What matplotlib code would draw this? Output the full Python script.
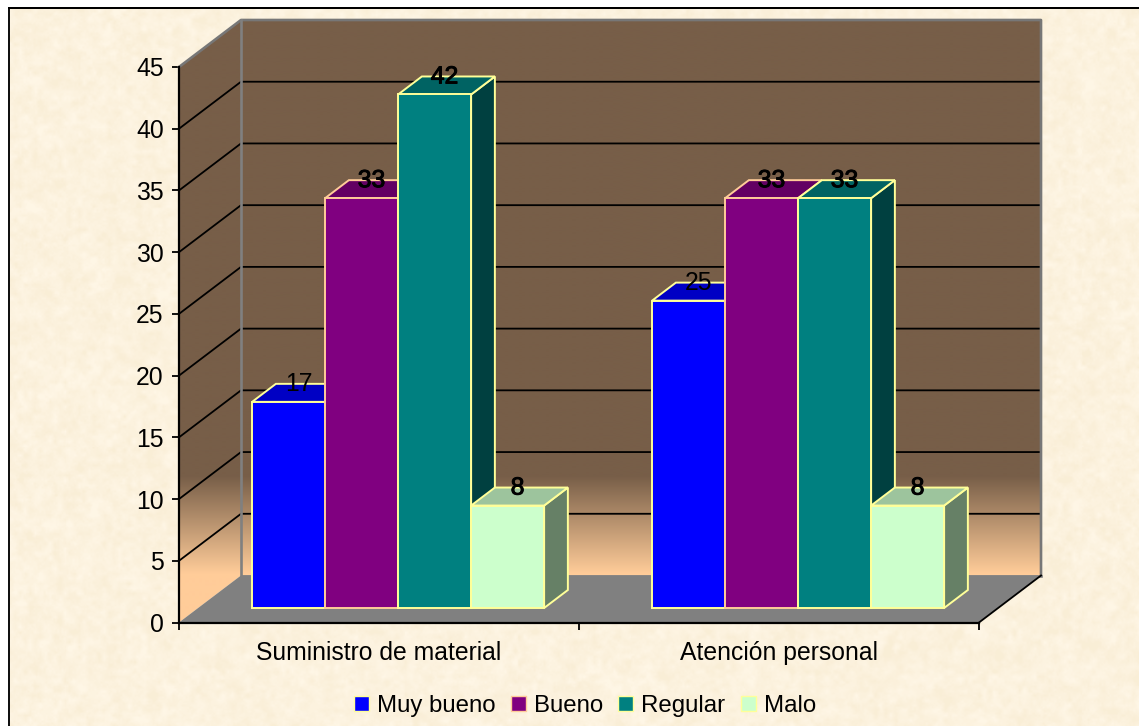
import numpy as np
from matplotlib import pyplot as plt
from matplotlib.patches import Patch, Polygon, Rectangle
from matplotlib.colors import to_rgb
import matplotlib.patheffects as pe

plt.rcParams['font.family'] = ['Liberation Sans', 'DejaVu Sans']

categorias = ['Suministro de material', 'Atención personal']
series = ['Muy bueno', 'Bueno', 'Regular', 'Malo']
muy_bueno = [16.7, 24.9]
bueno = [33.2, 33.2]
regular = [41.6, 33.2]
malo = [8.3, 8.3]
valores = [muy_bueno, bueno, regular, malo]
rotulos = [['17', '25'], ['33', '33'], ['42', '33'], ['8', '8']]
yticks = list(range(0, 50, 5))

cores = ['#0000FF', '#800080', '#008080', '#CCFFCC']
bordas = ['#FFFF99', '#FFCC99', '#FFFF99', '#FFFF99']
rotulo_forte = [False, True, True, True]

W, H = 1139, 726
fig = plt.figure(figsize=(W / 100, H / 100), dpi=100, facecolor='white')

# fundo de pergaminho
rng = np.random.default_rng(3)
tex = np.zeros((H, W))
for passo, peso in [(12, 0.6), (5, 0.8), (2, 0.3)]:
    r = rng.normal(size=(H // passo + 2, W // passo + 2))
    yy = np.linspace(0, r.shape[0] - 1.001, H)
    xx = np.linspace(0, r.shape[1] - 1.001, W)
    y0 = yy.astype(int)
    x0 = xx.astype(int)
    fy = (yy - y0)[:, None]
    fx = (xx - x0)[None, :]
    tex += peso * (r[y0][:, x0] * (1 - fy) * (1 - fx) + r[y0 + 1][:, x0] * fy * (1 - fx)
                   + r[y0][:, x0 + 1] * (1 - fy) * fx + r[y0 + 1][:, x0 + 1] * fy * fx)
tex = np.clip(tex / tex.std(), -2.5, 2.5)
fundo = np.dstack([np.full((H, W), 252.0) + tex * 1.0,
                   np.full((H, W), 242.0) + tex * 1.6,
                   np.full((H, W), 222.0) + tex * 3.0]) / 255
ax_f = fig.add_axes([10 / W, 0, (W - 10) / W, 717 / H], zorder=-1)
ax_f.imshow(np.clip(fundo, 0, 1), aspect='auto', interpolation='nearest')
ax_f.axis('off')
fig.add_artist(Rectangle((8 / W, 0), 2 / W, 719 / H, color='#111111', lw=0, transform=fig.transFigure))
fig.add_artist(Rectangle((8 / W, 717 / H), (W - 8) / W, 2 / H, color='#000000', lw=0, transform=fig.transFigure))

ax = fig.add_axes([179 / W, (H - 622.5) / H, 800 / W, 555.5 / H])
ax.patch.set_visible(False)
ax.set_xlim(0, 2)
ax.set_ylim(0, 45)

# profundidade: d=0 frente, d=1 fundo
dx = 62 / 400
dy = 47 / (555.5 / 45)


def proj(x, y, d):
    return x + d * dx, y + d * dy


def poly(pts, fc, ec='none', lw=0.0, z=2):
    p = Polygon(pts, closed=True, facecolor=fc, edgecolor=ec, linewidth=lw,
                joinstyle='miter', clip_on=False, zorder=z)
    ax.add_patch(p)
    return p


# paredes com degrade
marrom = np.array(to_rgb('#775E48'))
pessego = np.array(to_rgb('#FFCC99'))
ys = np.linspace(-dy, 45 + dy, 600)
t = np.clip((11.8 - ys) / (11.8 - 3.9), 0, 1)[:, None, None]
grad = marrom[None, None, :] * (1 - t) + pessego[None, None, :] * t

fundo_p = [proj(0, 0, 1), proj(2, 0, 1), proj(2, 45, 1), proj(0, 45, 1)]
lado_p = [proj(0, 0, 0), proj(0, 0, 1), proj(0, 45, 1), proj(0, 45, 0)]
for pts in (fundo_p, lado_p):
    clip = poly(pts, 'none', z=1)
    im = ax.imshow(grad, origin='lower', aspect='auto', zorder=1,
                   extent=(0, 2 + dx, -dy, 45 + dy), interpolation='bilinear')
    im.set_clip_box(fig.bbox)
    im.set_clip_path(clip)
ax.set_xlim(0, 2)
ax.set_ylim(0, 45)

# grade
for v in yticks[1:-1]:
    a, b, c = proj(0, v, 0), proj(0, v, 1), proj(2, v, 1)
    ax.plot([a[0], b[0], c[0]], [a[1], b[1], c[1]], color='black', lw=1.3, clip_on=False, zorder=1.5)

# chao
chao = [proj(0, 0, 0), proj(0, 0, 1), proj(2, 0, 1), proj(2, 0, 0)]
poly(chao, '#808080', z=1.6)

# contorno cinza das paredes
c1 = [proj(0, 45, 0), proj(0, 45, 1), proj(2, 45, 1), proj(2, 0, 1)]
ax.plot(*zip(*c1), color='#777777', lw=1.9, clip_on=False, zorder=1.7)
c2 = [proj(0, 45, 1), proj(0, 0, 1), proj(2, 0, 1)]
ax.plot(*zip(*c2), color='#808080', lw=1.9, clip_on=False, zorder=1.7)
c3 = [proj(2, 0, 0), proj(2, 0, 1)]
ax.plot(*zip(*c3), color='black', lw=1.3, clip_on=False, zorder=1.8)

# barras
d0, d1 = 14.5 / 47, 32.5 / 47
largura = 73 / 400
folga = 54 / 400


def escurece(cor, f):
    return tuple(c * f for c in to_rgb(cor))


z = 3
for g in range(len(categorias)):
    for s in range(len(series)):
        v = valores[s][g]
        x0 = g + folga + s * largura
        x1 = x0 + largura
        cor, borda = cores[s], bordas[s]
        poly([proj(x1, 0, d0), proj(x1, 0, d1), proj(x1, v, d1), proj(x1, v, d0)],
             escurece(cor, 0.5), borda, 1.4, z)
        poly([proj(x0, v, d0), proj(x1, v, d0), proj(x1, v, d1), proj(x0, v, d1)],
             escurece(cor, 0.77), borda, 1.4, z)
        poly([proj(x0, 0, d0), proj(x1, 0, d0), proj(x1, v, d0), proj(x0, v, d0)],
             cor, borda, 1.4, z)
        z += 0.1

for g in range(len(categorias)):
    for s in range(len(series)):
        v = valores[s][g]
        x0 = g + folga + s * largura
        tx = proj(x0 + largura / 2 + 10 / 400, 0, d0)[0]
        ty = proj(0, v, d1)[1]
        txt = ax.text(tx, ty, rotulos[s][g], ha='center', va='center',
                      fontsize=17.8, color='black', zorder=10, clip_on=False)
        if rotulo_forte[s]:
            txt.set_path_effects([pe.withStroke(linewidth=0.7, foreground='black')])

# eixos
for lado in ['top', 'right']:
    ax.spines[lado].set_visible(False)
for lado in ['left', 'bottom']:
    ax.spines[lado].set_linewidth(1.6)
    ax.spines[lado].set_zorder(2)
ax.set_yticks(yticks)
ax.tick_params(axis='y', length=5, width=1.3, labelsize=17.8, pad=6)
ax.set_xticks([0, 1, 2])
ax.set_xticklabels([])
ax.tick_params(axis='x', which='major', length=5, width=1.3)
ax.set_xticks([0.5, 1.5], minor=True)
ax.set_xticklabels(categorias, minor=True)
ax.tick_params(axis='x', which='minor', length=0, labelsize=17.8, pad=13)

handles = [Patch(facecolor=c, edgecolor=b, linewidth=1.0) for c, b in zip(cores, bordas)]
ax.legend(handles, series, ncol=4, frameon=False, fontsize=17.3, loc='center',
          bbox_to_anchor=(585 / W, (H - 706) / H), bbox_transform=fig.transFigure,
          handlelength=0.62, handleheight=0.62, handletextpad=0.34, columnspacing=0.63,
          borderpad=0, borderaxespad=0, labelspacing=0)

fig.savefig('out.png', dpi=100)
